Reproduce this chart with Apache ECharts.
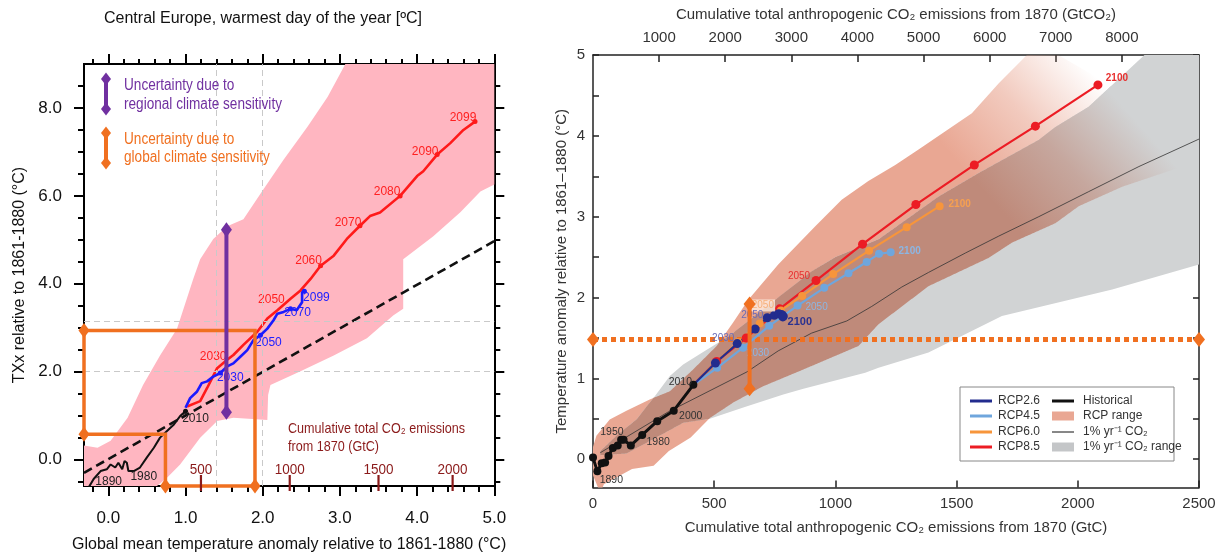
<!DOCTYPE html>
<html><head><meta charset="utf-8">
<script src="https://cdn.jsdelivr.net/npm/echarts@6/dist/echarts.min.js"></script>
<style>html,body{margin:0;padding:0;background:#fff}#c{width:1219px;height:558px}</style>
</head><body><div id="c"></div>
<script>
// ================= DATA =================
// ---- Left panel: Central Europe TXx vs global mean temperature ----
const LEFT_X_MIN = -0.315, LEFT_X_MAX = 5.0, LEFT_Y_MIN = -0.6, LEFT_Y_MAX = 9.0;
const LEFT_X_MAJOR = [0, 1, 2, 3, 4, 5];
const LEFT_X_MINOR = [-0.2, 0.2, 0.4, 0.6, 0.8, 1.2, 1.4, 1.6, 1.8, 2.2, 2.4, 2.6, 2.8, 3.2, 3.4, 3.6, 3.8, 4.2, 4.4, 4.6, 4.8];
const LEFT_Y_MAJOR = [0, 2, 4, 6, 8];
const LEFT_Y_MINOR = [-0.5, 0.5, 1, 1.5, 2.5, 3, 3.5, 4.5, 5, 5.5, 6.5, 7, 7.5, 8.5];
const LEFT_REF_X = [1.40, 2.0];
const LEFT_REF_Y = [2.0, 3.15];

const pinkRange = [
  [-0.315, -0.6], [-0.315, 0.32], [-0.14, 0.27], [0.03, 0.43], [0.25, 0.95], [0.45, 1.7], [0.67, 2.37],
  [0.89, 2.98], [1.10, 4.11], [1.19, 4.56], [1.36, 5.02], [1.54, 5.31], [1.75, 5.47], [2.01, 6.15],
  [2.27, 6.82], [2.58, 7.57], [2.84, 8.25], [3.05, 8.93], [3.07, 9.0], [5.0, 9.0], [5.0, 6.26],
  [4.82, 6.10], [4.56, 5.63], [4.21, 5.08], [3.82, 4.56], [3.82, 3.43], [3.69, 3.28], [3.35, 2.76],
  [2.92, 2.37], [2.49, 2.01], [2.10, 1.70], [2.07, 1.47], [2.06, 0.90], [1.62, 0.95], [1.41, 0.88],
  [1.19, 0.50], [0.93, -0.11], [0.76, -0.41], [0.63, -0.6]
];
const oneToOneX = [-0.315, 5.0];
const oneToOneY = [-0.30, 4.97];

const leftRedGMT = [1.02, 1.19, 1.28, 1.41, 1.54, 1.62, 1.75, 1.93, 2.06, 2.19, 2.36, 2.49, 2.62, 2.75, 2.92, 3.09, 3.26, 3.39, 3.52, 3.78, 4.0, 4.08, 4.26, 4.43, 4.60, 4.75];
const leftRedTXx = [1.21, 1.33, 1.63, 2.08, 2.27, 2.38, 2.61, 2.91, 3.21, 3.40, 3.66, 3.85, 4.11, 4.41, 4.64, 5.02, 5.32, 5.54, 5.62, 6.0, 6.45, 6.56, 6.94, 7.20, 7.50, 7.69];
const leftRedMarkIdx = [13, 16, 19, 22, 25];
const leftRedLabelIdx = [3, 9, 13, 16, 19, 22, 25];
const leftRedLabelText = ['2030', '2050', '2060', '2070', '2080', '2090', '2099'];

const leftBlueGMT = [1.0, 1.06, 1.15, 1.21, 1.28, 1.36, 1.45, 1.54, 1.62, 1.71, 1.80, 1.88, 1.97, 2.06, 2.14, 2.19, 2.27, 2.36, 2.44, 2.51, 2.51, 2.54];
const leftBlueTXx = [1.18, 1.40, 1.55, 1.74, 1.78, 1.89, 1.97, 2.12, 2.19, 2.34, 2.49, 2.72, 2.83, 2.98, 3.17, 3.32, 3.36, 3.43, 3.40, 3.58, 3.81, 3.83];
const leftBlueMarkIdx = [6, 12, 17, 21];
const leftBlueLabelIdx = [6, 12, 17, 21];
const leftBlueLabelText = ['2030', '2050', '2070', '2099'];

const leftHistGMT = [-0.25, -0.19, -0.10, -0.02, 0.03, 0.09, 0.13, 0.18, 0.21, 0.24, 0.26, 0.33, 0.41, 0.50, 0.59, 0.67, 0.76, 0.85, 0.93, 1.0];
const leftHistTXx = [-0.62, -0.44, -0.26, -0.22, -0.11, -0.18, -0.07, -0.22, -0.03, -0.07, -0.26, -0.26, -0.18, 0.05, 0.27, 0.50, 0.65, 0.80, 0.99, 1.10];
const leftHistMarkIdx = [19];
const leftHistLabelIdx = [1, 11, 19];
const leftHistLabelText = ['1890', '1980', '2010'];

const purpleBarX = [1.53, 1.53];
const purpleBarY = [1.08, 5.23];
const orangeBoxX = [-0.315, 1.90, 1.90, 0.74, 0.74, -0.315, -0.315];
const orangeBoxY = [2.94, 2.94, -0.6, -0.6, 0.58, 0.58, 2.94];
const orangeBoxMarkIdx = [0, 2, 3, 5];

const emisLabels = ['500', '1000', '1500', '2000'];
const emisGMT = [1.20, 2.35, 3.50, 4.46];

// ---- Right panel: temperature vs cumulative emissions ----
const R_X_MIN = 0, R_X_MAX = 2500, R_Y_MIN = -0.35, R_Y_MAX = 5;
const GTC_TO_GTCO2 = 44 / 12;
const R_Y_LABELS = [0, 1, 2, 3, 4, 5];
const R_Y_TICKS = [0, 0.5, 1, 1.5, 2, 2.5, 3, 3.5, 4, 4.5, 5];
const TOP_LABELS = [1000, 2000, 3000, 4000, 5000, 6000, 7000, 8000];
const TOP_TICKS = [1000, 2000, 3000, 4000, 5000, 6000, 7000, 8000, 9000];

// 1% yr-1 CO2 range (upper and lower edges, GtC vs °C)
const grayUpper = [
  [30, 0.10], [100, 0.30], [179, 0.49], [255, 0.78], [317, 1.03], [372, 1.17], [456, 1.33], [560, 1.52],
  [700, 1.85], [900, 2.32], [1000, 2.50], [1178, 2.72], [1426, 3.25], [1591, 3.54], [1839, 3.95],
  [1908, 4.11], [2045, 4.36], [2275, 5.0], [2500, 5.0]
];
const grayLower = [
  [30, 0.05], [138, 0.07], [250, 0.25], [372, 0.45], [482, 0.50], [620, 0.64], [785, 0.80], [868, 0.87],
  [1123, 1.07], [1178, 1.13], [1384, 1.32], [1687, 1.77], [2142, 2.10], [2500, 2.41]
];
// RCP range (upper and lower edges)
const rcpUpper = [
  [0, 0.15], [14, 0.29], [69, 0.49], [138, 0.60], [234, 0.74], [317, 0.84], [413, 1.11], [510, 1.40],
  [578, 1.69], [640, 1.97], [764, 2.41], [916, 2.88], [1026, 3.21], [1136, 3.44], [1247, 3.64],
  [1343, 3.83], [1563, 4.28], [1674, 4.65], [1790, 5.0], [1920, 5.0], [2150, 4.6], [2380, 4.15], [2450, 3.7]
];
const rcpLower = [
  [0, -0.2], [30, -0.42], [45, -0.31], [161, -0.12], [250, -0.08], [313, 0.10], [403, 0.27], [482, 0.51],
  [578, 0.70], [700, 0.90], [868, 1.11], [1095, 1.40], [1178, 1.67], [1384, 2.14], [1632, 2.49],
  [1729, 2.68], [1908, 2.92], [2004, 3.13], [2183, 3.37], [2431, 3.62], [2450, 3.7]
];
const rcpFadeFrom = [1420, 3.96];
const rcpFadeTo = [1913, 5.28];

const onePctGtC = [30, 313, 635, 764, 902, 1047, 1150, 1274, 1384, 1536, 1674, 1839, 2045, 2252, 2500];
const onePctT = [0.08, 0.59, 1.08, 1.34, 1.56, 1.71, 1.89, 2.13, 2.31, 2.55, 2.76, 3.0, 3.31, 3.62, 3.96];

const histGtC = [0, 18, 36, 50, 64, 82, 102, 116, 126, 156, 203, 265, 333, 414];
const histT = [0.02, -0.15, -0.05, -0.04, 0.04, 0.14, 0.17, 0.24, 0.24, 0.17, 0.30, 0.47, 0.60, 0.92];
const histLabelIdx = [1, 5, 10, 12, 13];
const histLabelText = ['1890', '1950', '1980', '2000', '2010'];

const rcp26GtC = [414, 505, 595, 669, 719, 748, 766, 778, 785, 783];
const rcp26T = [0.92, 1.19, 1.43, 1.61, 1.75, 1.78, 1.80, 1.79, 1.77, 1.76];
const rcp45GtC = [414, 512, 619, 727, 844, 954, 1054, 1129, 1180, 1228];
const rcp45T = [0.92, 1.13, 1.38, 1.65, 1.90, 2.12, 2.30, 2.44, 2.54, 2.56];
const rcp60GtC = [414, 505, 598, 688, 775, 863, 991, 1139, 1294, 1430];
const rcp60T = [0.92, 1.19, 1.45, 1.68, 1.84, 2.02, 2.29, 2.58, 2.87, 3.13];
const rcp85GtC = [414, 510, 632, 770, 920, 1112, 1332, 1573, 1825, 2083];
const rcp85T = [0.92, 1.21, 1.50, 1.86, 2.21, 2.66, 3.15, 3.64, 4.12, 4.63];
const rcpLabelIdx = [2, 4, 9];
const rcpLabelText = ['2030', '2050', '2100'];

const dottedT = 1.48;
const dottedGtC = [0, 2500];
const vbarGtC = [646, 646];
const vbarT = [0.87, 1.92];

// ================= STYLE =================
const FONT = "'Liberation Sans', Arial, Helvetica, sans-serif";
const ORANGE = '#F07020', PURPLE = '#7030A0', DARKRED = '#8B1A1A';
const C26 = '#222C8E', C45 = '#6FA6DD', C60 = '#F7953B', C85 = '#EC1C24';
const SALMON = [233, 167, 147], GRAY = [209, 211, 212];

const leftRedOff = [[-4, -12], [-6, -10], [-12, -5], [-12, -3], [-13, -4], [-12, -3], [-12, -4]];
const leftBlueOff = [[10, 5], [8, 7], [7, 4], [12, 6]];
const leftHistOff = [[15, 3], [10, 6], [10, 7]];
const histOff = [[14, 9], [-1, -16], [16, 7], [17, 5], [-13, -3]];
const off26 = [[-14, -5], [-15, -2], [17, 5]];
const off45 = [[15, 6], [19, 2], [19, -1]];
const off60 = [[0, 0], [-18, -5], [20, -2]];
const off85 = [[0, 0], [-17, -4], [19, -7]];

function buildItems(xs, ys, markIdx, markSize, labelIdx, labelText, labelOff, labelExtra) {
  return xs.map((x, i) => {
    const item = { value: [x, ys[i]], symbol: 'circle', symbolSize: markIdx.indexOf(i) >= 0 ? markSize : 0 };
    const li = labelIdx.indexOf(i);
    if (li >= 0 && labelText[li] != null) {
      item.label = Object.assign({ show: true, formatter: labelText[li], position: 'inside', offset: labelOff[li] },
        (labelExtra && labelExtra[li]) || {});
    }
    return item;
  });
}

function polygonSeries(pts, xi, yi, z, styleFn) {
  return {
    type: 'custom', xAxisIndex: xi, yAxisIndex: yi, z: z, silent: true, clip: true,
    data: pts, encode: { x: 0, y: 1 },
    renderItem: function (params, api) {
      if (params.dataIndex !== 0) return null;
      const p = pts.map(q => api.coord(q));
      return { type: 'polygon', shape: { points: p }, style: styleFn(api) };
    }
  };
}

function lineSeries(o) {
  return Object.assign({ type: 'line', silent: true, showSymbol: true, animation: false, emphasis: { disabled: true } }, o);
}

// band helpers (geometry of the overlap between the two ranges)
function edgeAt(edge, x) {
  if (x <= edge[0][0]) return edge[0][1];
  for (let i = 1; i < edge.length; i++) {
    if (x <= edge[i][0]) {
      const x0 = edge[i - 1][0], y0 = edge[i - 1][1], x1 = edge[i][0], y1 = edge[i][1];
      return x1 === x0 ? y1 : y0 + (y1 - y0) * (x - x0) / (x1 - x0);
    }
  }
  return edge[edge.length - 1][1];
}
function bandPolygon(upper, lower) { return upper.concat(lower.slice().reverse()); }
function overlapPolygon(uA, lA, uB, lB) {
  const x0 = Math.max(uA[0][0], lA[0][0], uB[0][0], lB[0][0]);
  const x1 = Math.min(uA[uA.length - 1][0], lA[lA.length - 1][0], uB[uB.length - 1][0], lB[lB.length - 1][0]);
  let xs = [];
  [uA, lA, uB, lB].forEach(e => e.forEach(p => { if (p[0] >= x0 && p[0] <= x1) xs.push(p[0]); }));
  for (let x = x0; x <= x1; x += 4) xs.push(x);
  xs.push(x1);
  xs = Array.from(new Set(xs)).sort((a, b) => a - b);
  const up = [], lo = [];
  xs.forEach(x => {
    const l = Math.max(edgeAt(lA, x), edgeAt(lB, x));
    const u = Math.max(l, Math.min(edgeAt(uA, x), edgeAt(uB, x)));
    up.push([x, u]); lo.push([x, l]);
  });
  return up.concat(lo.reverse());
}
const rgb = (c, a) => 'rgba(' + c.map(Math.round).join(',') + ',' + (a == null ? 1 : a) + ')';
const mix = (c1, c2, t) => c1.map((v, i) => v + (c2[i] - v) * t);
const mult = SALMON.map((v, i) => v * GRAY[i] / 255);

// ---------- axes ----------
function leftX(pos, ticks, len, labels, extra) {
  return Object.assign({
    type: 'value', gridIndex: 0, position: pos, min: LEFT_X_MIN, max: LEFT_X_MAX,
    axisLine: { show: !!labels || pos === 'top', onZero: false, lineStyle: { color: '#000', width: 2 } },
    axisTick: { show: true, customValues: ticks, length: len, inside: false, lineStyle: { color: '#000', width: 2 } },
    axisLabel: labels ? { show: true, customValues: ticks, formatter: v => v.toFixed(1), fontSize: 17, color: '#111', fontFamily: FONT, margin: 24 } : { show: false },
    splitLine: { show: false }
  }, extra || {});
}
function leftY(pos, ticks, len, labels, extra) {
  return Object.assign({
    type: 'value', gridIndex: 0, position: pos, min: LEFT_Y_MIN, max: LEFT_Y_MAX,
    axisLine: { show: true, onZero: false, lineStyle: { color: '#000', width: 2 } },
    axisTick: { show: true, customValues: ticks, length: len, inside: false, lineStyle: { color: '#000', width: 2 } },
    axisLabel: labels ? { show: true, customValues: ticks, formatter: v => v.toFixed(1), fontSize: 17, color: '#111', fontFamily: FONT, margin: 22 } : { show: false },
    splitLine: { show: false }
  }, extra || {});
}

const xAxes = [
  leftX('bottom', LEFT_X_MAJOR, 10, true, {
    name: 'Global mean temperature anomaly relative to 1861-1880 (°C)', nameLocation: 'middle', nameGap: 51,
    nameTextStyle: { fontSize: 16, color: '#111', fontFamily: FONT }
  }),
  leftX('bottom', LEFT_X_MINOR, 6, false),
  leftX('top', LEFT_X_MAJOR, 10, false),
  leftX('top', LEFT_X_MINOR, 5, false),
  {
    type: 'value', gridIndex: 1, position: 'bottom', min: R_X_MIN, max: R_X_MAX, interval: 500,
    axisLine: { show: true, onZero: false, lineStyle: { color: '#222', width: 1.5 } },
    axisTick: { show: true, inside: true, length: 7, lineStyle: { color: '#222', width: 1.5 } },
    axisLabel: { fontSize: 15, color: '#333', fontFamily: FONT, margin: 9, formatter: v => String(v) },
    splitLine: { show: false },
    name: 'Cumulative total anthropogenic CO₂ emissions from 1870 (GtC)', nameLocation: 'middle', nameGap: 33,
    nameTextStyle: { fontSize: 15, color: '#333', fontFamily: FONT }
  },
  {
    type: 'value', gridIndex: 1, position: 'top', min: R_X_MIN * GTC_TO_GTCO2, max: R_X_MAX * GTC_TO_GTCO2,
    axisLine: { show: true, onZero: false, lineStyle: { color: '#222', width: 1.5 } },
    axisTick: { show: true, inside: true, length: 7, customValues: TOP_TICKS, lineStyle: { color: '#222', width: 1.5 } },
    axisLabel: { fontSize: 15, color: '#333', fontFamily: FONT, margin: 10, customValues: TOP_LABELS, formatter: v => String(v) },
    splitLine: { show: false },
    name: 'Cumulative total anthropogenic CO₂ emissions from 1870 (GtCO₂)', nameLocation: 'middle', nameGap: 33,
    nameTextStyle: { fontSize: 15, color: '#333', fontFamily: FONT }
  }
];

const yAxes = [
  leftY('left', LEFT_Y_MAJOR, 10, true, {
    name: 'TXx relative to 1861-1880 (°C)', nameLocation: 'middle', nameGap: 56, nameRotate: 90,
    nameTextStyle: { fontSize: 16, color: '#111', fontFamily: FONT }
  }),
  leftY('left', LEFT_Y_MINOR, 6, false),
  leftY('right', LEFT_Y_MAJOR, 10, false),
  leftY('right', LEFT_Y_MINOR, 6, false),
  {
    type: 'value', gridIndex: 1, position: 'left', min: R_Y_MIN, max: R_Y_MAX,
    axisLine: { show: true, onZero: false, lineStyle: { color: '#222', width: 1.5 } },
    axisTick: { show: true, inside: true, length: 6, customValues: R_Y_TICKS, lineStyle: { color: '#222', width: 1.5 } },
    axisLabel: { fontSize: 15, color: '#333', fontFamily: FONT, margin: 8, customValues: R_Y_LABELS },
    splitLine: { show: false },
    name: 'Temperature anomaly relative to 1861–1880 (°C)', nameLocation: 'middle', nameGap: 24, nameRotate: 90,
    nameTextStyle: { fontSize: 15, color: '#333', fontFamily: FONT }
  },
  {
    type: 'value', gridIndex: 1, position: 'right', min: R_Y_MIN, max: R_Y_MAX,
    axisLine: { show: true, onZero: false, lineStyle: { color: '#222', width: 1.5 } },
    axisTick: { show: true, inside: true, length: 6, customValues: R_Y_TICKS, lineStyle: { color: '#222', width: 1.5 } },
    axisLabel: { show: false }, splitLine: { show: false }
  }
];

// ---------- series ----------
const zip = (a, b) => a.map((v, i) => [v, b[i]]);
const diamondItems = (xs, ys, idx, size) => xs.map((x, i) => ({
  value: [x, ys[i]], symbol: idx.indexOf(i) >= 0 ? 'diamond' : 'circle', symbolSize: idx.indexOf(i) >= 0 ? size : 0
}));

const series = [];
series.push(lineSeries({
  xAxisIndex: 0, yAxisIndex: 0, data: [], z: 1,
  markLine: {
    silent: true, symbol: 'none', label: { show: false }, animation: false,
    lineStyle: { color: '#c9c9c9', type: [6, 4], width: 1 },
    data: LEFT_REF_X.map(v => ({ xAxis: v })).concat(LEFT_REF_Y.map(v => ({ yAxis: v })))
  }
}));
series.push(polygonSeries(pinkRange, 0, 0, 2, () => ({ fill: '#FFB6C1' })));
series.push(lineSeries({
  xAxisIndex: 0, yAxisIndex: 0, z: 3, symbol: 'none', data: zip(oneToOneX, oneToOneY),
  lineStyle: { color: '#111', width: 2.6, type: [9, 5] }
}));
series.push(lineSeries({
  xAxisIndex: 0, yAxisIndex: 0, z: 4,
  data: buildItems(leftHistGMT, leftHistTXx, leftHistMarkIdx, 5, leftHistLabelIdx, leftHistLabelText, leftHistOff),
  lineStyle: { color: '#111', width: 2 }, itemStyle: { color: '#111' },
  label: { show: false, color: '#222', fontSize: 12, fontFamily: FONT }
}));
series.push(lineSeries({
  xAxisIndex: 0, yAxisIndex: 0, z: 4,
  data: buildItems(leftRedGMT, leftRedTXx, leftRedMarkIdx, 5, leftRedLabelIdx, leftRedLabelText, leftRedOff),
  lineStyle: { color: '#FF1A1A', width: 2.6 }, itemStyle: { color: '#FF1A1A' },
  label: { show: false, color: '#FF2020', fontSize: 12, fontFamily: FONT }
}));
series.push(lineSeries({
  xAxisIndex: 0, yAxisIndex: 0, z: 5,
  data: buildItems(leftBlueGMT, leftBlueTXx, leftBlueMarkIdx, 5, leftBlueLabelIdx, leftBlueLabelText, leftBlueOff),
  lineStyle: { color: '#1A1AFF', width: 2.6 }, itemStyle: { color: '#1A1AFF' },
  label: { show: false, color: '#2020FF', fontSize: 12, fontFamily: FONT }
}));
series.push(lineSeries({
  xAxisIndex: 0, yAxisIndex: 0, z: 7, clip: false,
  data: diamondItems(purpleBarX, purpleBarY, [0, 1], [11, 15]),
  lineStyle: { color: PURPLE, width: 4 }, itemStyle: { color: PURPLE }
}));
series.push(lineSeries({
  xAxisIndex: 0, yAxisIndex: 0, z: 6, clip: false,
  data: diamondItems(orangeBoxX, orangeBoxY, orangeBoxMarkIdx, [11, 15]),
  lineStyle: { color: ORANGE, width: 3.5, join: 'miter' }, itemStyle: { color: ORANGE }
}));
series.push({
  type: 'custom', xAxisIndex: 0, yAxisIndex: 0, z: 8, silent: true, clip: false,
  data: emisGMT.map(v => [v, LEFT_Y_MIN]), encode: { x: 0, y: 1 },
  renderItem: function (params, api) {
    const p = api.coord([api.value(0), api.value(1)]);
    return {
      type: 'group', children: [
        { type: 'line', shape: { x1: p[0], y1: p[1] - 11, x2: p[0], y2: p[1] + 5 }, style: { stroke: DARKRED, lineWidth: 2.2 } },
        { type: 'text', x: p[0], y: p[1] - 16, scaleX: 0.9, style: { text: emisLabels[params.dataIndex], fill: DARKRED, font: '15px ' + FONT, align: 'center', verticalAlign: 'middle' } }
      ]
    };
  }
});

// Right: ranges
function fadeGrad(api, c0, cMid, c1) {
  const a = api.coord(rcpFadeFrom), b = api.coord(rcpFadeTo);
  return new echarts.graphic.LinearGradient(a[0], a[1], b[0], b[1], [
    { offset: 0, color: c0 }, { offset: 0.5, color: cMid }, { offset: 1, color: c1 }
  ], true);
}
series.push(polygonSeries(bandPolygon(rcpUpper, rcpLower), 4, 4, 1, (api) => ({
  fill: fadeGrad(api, rgb(SALMON, 1), rgb(SALMON, 0.6), rgb(SALMON, 0))
})));
series.push(polygonSeries(bandPolygon(grayUpper, grayLower), 4, 4, 2, () => ({ fill: rgb(GRAY) })));
series.push(polygonSeries(overlapPolygon(rcpUpper, rcpLower, grayUpper, grayLower), 4, 4, 3, (api) => ({
  fill: fadeGrad(api, rgb(mult), rgb(mix(GRAY, mult, 0.6)), rgb(GRAY))
})));
series.push(lineSeries({
  xAxisIndex: 4, yAxisIndex: 4, z: 4, symbol: 'none', data: zip(onePctGtC, onePctT),
  lineStyle: { color: '#333', width: 0.8 }
}));
series.push(lineSeries({
  xAxisIndex: 4, yAxisIndex: 4, z: 4, clip: false,
  data: diamondItems(dottedGtC, [dottedT, dottedT], [0, 1], [12, 15]),
  lineStyle: { color: ORANGE, width: 5, type: [5, 4], cap: 'butt' }, itemStyle: { color: ORANGE }
}));
const rcpLabel = (c) => ({ show: false, color: c, fontSize: 10, fontFamily: FONT });
const allButFirst = [1, 2, 3, 4, 5, 6, 7, 8, 9];
series.push(lineSeries({
  xAxisIndex: 4, yAxisIndex: 4, z: 5,
  data: buildItems(rcp85GtC, rcp85T, allButFirst, 9, rcpLabelIdx, [null, '2050', '2100'], off85,
    [null, {}, { fontWeight: 'bold' }]),
  lineStyle: { color: C85, width: 2.2 }, itemStyle: { color: C85 }, label: rcpLabel('#E8302F')
}));
series.push(lineSeries({
  xAxisIndex: 4, yAxisIndex: 4, z: 5,
  data: buildItems(rcp60GtC, rcp60T, allButFirst, 8, rcpLabelIdx, [null, '2050', '2100'], off60,
    [null, { backgroundColor: 'rgba(255,240,228,0.75)', color: '#F7B07A', padding: [1, 1] }, { fontWeight: 'bold' }]),
  lineStyle: { color: C60, width: 2.2 }, itemStyle: { color: C60 }, label: rcpLabel('#F7A050')
}));
series.push(lineSeries({
  xAxisIndex: 4, yAxisIndex: 4, z: 5,
  data: buildItems(rcp45GtC, rcp45T, allButFirst, 8, rcpLabelIdx, rcpLabelText, off45,
    [{}, {}, { fontWeight: 'bold' }]),
  lineStyle: { color: C45, width: 2.2 }, itemStyle: { color: C45 }, label: rcpLabel('#8CB6E3')
}));
series.push(lineSeries({
  xAxisIndex: 4, yAxisIndex: 4, z: 5,
  data: buildItems(rcp26GtC, rcp26T, allButFirst, 9, rcpLabelIdx, rcpLabelText, off26,
    [{}, {}, { fontWeight: 'bold', color: '#2A3290', fontSize: 11 }]),
  lineStyle: { color: C26, width: 2.2 }, itemStyle: { color: C26 }, label: rcpLabel('#6A6CB8')
}));
series.push(lineSeries({
  xAxisIndex: 4, yAxisIndex: 4, z: 6,
  data: buildItems(histGtC, histT, histGtC.map((v, i) => i), 8, histLabelIdx, histLabelText, histOff),
  lineStyle: { color: '#111', width: 3 }, itemStyle: { color: '#111' },
  label: { show: false, color: '#333', fontSize: 10.5, fontFamily: FONT }
}));
series.push(lineSeries({
  xAxisIndex: 4, yAxisIndex: 4, z: 7, clip: false,
  data: diamondItems(vbarGtC, vbarT, [0, 1], [12, 15]),
  lineStyle: { color: ORANGE, width: 4 }, itemStyle: { color: ORANGE }
}));

// ---------- graphic (titles, legends, captions) ----------
function diamond(x, y, w, h, color) {
  return { type: 'polygon', shape: { points: [[x, y - h / 2], [x + w / 2, y], [x, y + h / 2], [x - w / 2, y]] }, style: { fill: color }, z: 100 };
}
function txt(x, y, text, color, font, align, sx) {
  return { type: 'text', x: x, y: y, z: 100, scaleX: sx || 1, style: { text: text, fill: color, font: font, align: align || 'left', verticalAlign: 'middle' } };
}
const legRows = [401, 416, 432, 447];
const graphics = [
  txt(263, 19, 'Central Europe, warmest day of the year [ºC]', '#111', '16px ' + FONT, 'center'),
  { type: 'line', shape: { x1: 106, y1: 79, x2: 106, y2: 109 }, style: { stroke: PURPLE, lineWidth: 4 }, z: 100 },
  diamond(106, 79, 10, 13, PURPLE), diamond(106, 109, 10, 13, PURPLE),
  txt(124, 86, 'Uncertainty due to', PURPLE, '16px ' + FONT, 'left', 0.85),
  txt(124, 105, 'regional climate sensitivity', PURPLE, '16px ' + FONT, 'left', 0.85),
  { type: 'line', shape: { x1: 106, y1: 133, x2: 106, y2: 163 }, style: { stroke: ORANGE, lineWidth: 4 }, z: 100 },
  diamond(106, 133, 10, 13, ORANGE), diamond(106, 163, 10, 13, ORANGE),
  txt(124, 140, 'Uncertainty due to', ORANGE, '16px ' + FONT, 'left', 0.85),
  txt(124, 158, 'global climate sensitivity', ORANGE, '16px ' + FONT, 'left', 0.85),
  txt(288, 429, 'Cumulative total CO₂ emissions', DARKRED, '15px ' + FONT, 'left', 0.84),
  txt(288, 447, 'from 1870 (GtC)', DARKRED, '15px ' + FONT, 'left', 0.84),
  { type: 'rect', shape: { x: 960, y: 387, width: 214, height: 74 }, style: { fill: '#fff', stroke: '#888', lineWidth: 1 }, z: 99 },
  { type: 'line', shape: { x1: 970, y1: legRows[0], x2: 992, y2: legRows[0] }, style: { stroke: C26, lineWidth: 3 }, z: 100 },
  { type: 'line', shape: { x1: 970, y1: legRows[1], x2: 992, y2: legRows[1] }, style: { stroke: C45, lineWidth: 3 }, z: 100 },
  { type: 'line', shape: { x1: 970, y1: legRows[2], x2: 992, y2: legRows[2] }, style: { stroke: C60, lineWidth: 3 }, z: 100 },
  { type: 'line', shape: { x1: 970, y1: legRows[3], x2: 992, y2: legRows[3] }, style: { stroke: C85, lineWidth: 3 }, z: 100 },
  txt(998, legRows[0], 'RCP2.6', '#333', '12px ' + FONT),
  txt(998, legRows[1], 'RCP4.5', '#333', '12px ' + FONT),
  txt(998, legRows[2], 'RCP6.0', '#333', '12px ' + FONT),
  txt(998, legRows[3], 'RCP8.5', '#333', '12px ' + FONT),
  { type: 'line', shape: { x1: 1052, y1: legRows[0], x2: 1074, y2: legRows[0] }, style: { stroke: '#111', lineWidth: 3 }, z: 100 },
  { type: 'rect', shape: { x: 1052, y: legRows[1] - 4.5, width: 22, height: 9 }, style: { fill: '#E9A793' }, z: 100 },
  { type: 'line', shape: { x1: 1052, y1: legRows[2], x2: 1074, y2: legRows[2] }, style: { stroke: '#111', lineWidth: 1 }, z: 100 },
  { type: 'rect', shape: { x: 1052, y: legRows[3] - 4.5, width: 22, height: 9 }, style: { fill: '#C4C6C8' }, z: 100 },
  txt(1083, legRows[0], 'Historical', '#333', '12px ' + FONT),
  txt(1083, legRows[1], 'RCP range', '#333', '12px ' + FONT),
  txt(1083, legRows[2], '1% yr⁻¹ CO₂', '#333', '12px ' + FONT),
  txt(1083, legRows[3], '1% yr⁻¹ CO₂ range', '#333', '12px ' + FONT)
];

const option = {
  backgroundColor: '#fff',
  animation: false,
  grid: [
    { left: 84, top: 64, width: 410.3, height: 424, containLabel: false },
    { left: 593, top: 55, width: 606, height: 432.5, containLabel: false }
  ],
  xAxis: xAxes,
  yAxis: yAxes,
  series: series,
  graphic: graphics
};
const chart = echarts.init(document.getElementById('c'), null, { renderer: 'canvas' });
chart.setOption(option);
</script></body></html>
